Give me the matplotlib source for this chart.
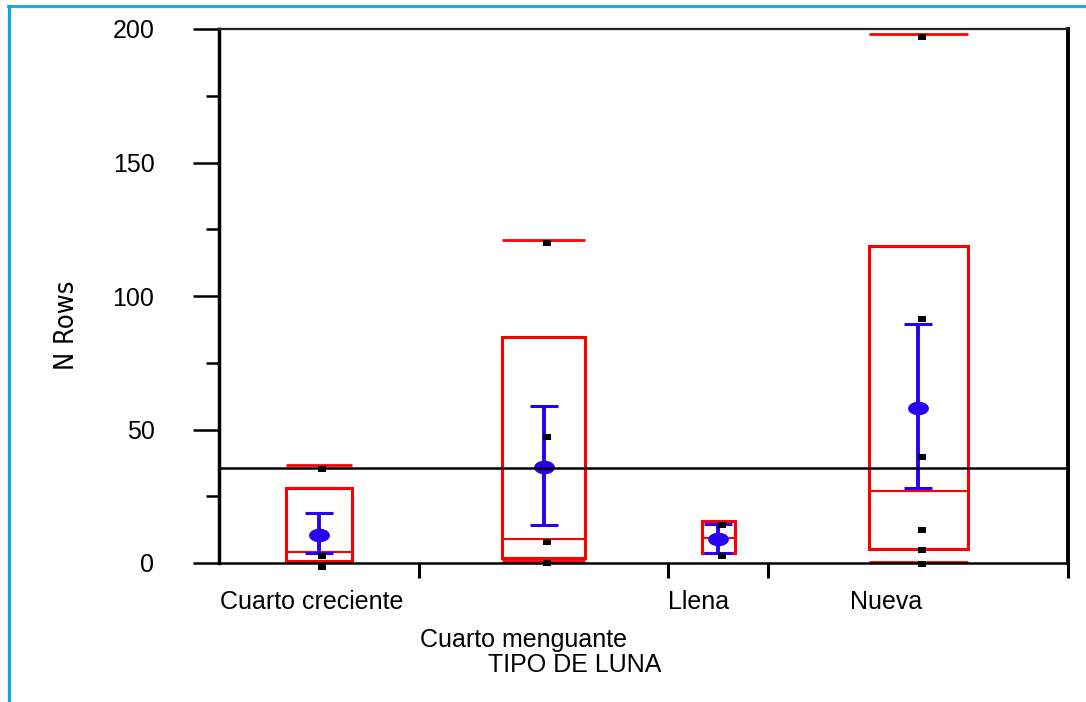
import numpy as np
import matplotlib
matplotlib.use("Agg")
import matplotlib.pyplot as plt
from matplotlib.path import Path
from matplotlib.lines import Line2D

plt.rcParams['font.family'] = ['Liberation Sans', 'DejaVu Sans']

# ---- data ----
categories = ["Cuarto creciente", "Cuarto menguante", "Llena", "Nueva"]
counts = [4, 5, 2, 6]
q1 = [0.75, 1.8, 3.6, 5.1]
medians = [4.2, 9.0, 9.2, 27.0]
q3 = [28.1, 84.8, 15.8, 118.7]
vmin = [0.75, 0.7, 3.6, 0.5]
vmax = [36.7, 121.0, 15.8, 198.0]
means = [10.5, 35.8, 8.9, 58.2]
ci_low = [3.9, 14.2, 3.9, 28.0]
ci_high = [18.8, 58.8, 14.6, 89.4]
points = [
    [35.3, 2.6, -1.4],
    [120.0, 47.3, 8.0, 0.1],
    [14.2, 2.6],
    [197.1, 91.4, 39.8, 12.4, 4.9, -0.4],
]
grand_mean = 35.5
yticks_major = [0, 50, 100, 150, 200]
yticks_minor = [25, 75, 125, 175]

# ---- figure ----
W, H = 1086, 702
fig = plt.figure(figsize=(W / 100, H / 100), dpi=100)
ax = fig.add_axes([219 / W, (H - 563) / H, (1068 - 219) / W, (563 - 29) / H])

counts_a = np.array(counts, dtype=float)
edges = np.concatenate([[0], np.cumsum(counts_a)])
centers = edges[:-1] + counts_a / 2
box_w = 0.33 * counts_a

ax.set_xlim(0, edges[-1])
ax.set_ylim(0, 200)

red = '#ff0000'
blue = '#2a00f5'

# boxes
ax.bar(centers, np.array(q3) - np.array(q1), bottom=q1, width=box_w,
       fill=False, edgecolor=red, linewidth=2.2, zorder=2, clip_on=False)
ax.hlines(medians, centers - box_w / 2, centers + box_w / 2, colors=red,
          linewidth=1.5, zorder=2, clip_on=False)
ax.hlines(vmax, centers - box_w / 2, centers + box_w / 2, colors=red,
          linewidth=2.0, zorder=2, clip_on=False)
ax.hlines(vmin, centers - box_w / 2, centers + box_w / 2, colors=red,
          linewidth=2.0, zorder=2, clip_on=False)

# means with error bars
t = np.linspace(0, 2 * np.pi, 60)
ellipse = Path(np.column_stack([np.cos(t), 0.65 * np.sin(t)]), closed=True)
means_a = np.array(means)
yerr = [means_a - np.array(ci_low), np.array(ci_high) - means_a]
ax.errorbar(centers, means, yerr=yerr, fmt='none', ecolor=blue,
            elinewidth=2.8, capsize=10, capthick=2.2, zorder=3, clip_on=False)
ax.plot(centers, means, linestyle='none', marker=ellipse, markersize=15,
        color=blue, markeredgewidth=0, zorder=4, clip_on=False)

# grand mean
ax.axhline(grand_mean, color='black', linewidth=1.8, zorder=5)

# points
rect = Path([(-1, -0.75), (1, -0.75), (1, 0.75), (-1, 0.75), (-1, -0.75)], closed=True)
for c, pts in zip(centers, points):
    ax.plot(np.full(len(pts), c + 0.07), pts, linestyle='none', marker=rect,
            markersize=6.0, color='black', markeredgewidth=0, zorder=6, clip_on=False)

# spines
ax.spines['left'].set_linewidth(2.5)
ax.spines['bottom'].set_linewidth(1.8)
ax.spines['top'].set_linewidth(1.6)
ax.spines['top'].set_color('#222222')
ax.spines['right'].set_linewidth(2.8)

# ticks
ax.set_yticks(yticks_major)
ax.set_yticklabels([str(v) for v in yticks_major], fontsize=18)
ax.set_yticks(yticks_minor, minor=True)
ax.tick_params(axis='y', which='major', length=18.5, width=1.8, pad=28)
ax.tick_params(axis='y', which='minor', length=9.5, width=1.8)
ax.set_xticks(edges[1:])
ax.set_xticklabels([])
ax.tick_params(axis='x', which='major', length=11, width=2.2, direction='out')
ax.tick_params(axis='x', which='minor', bottom=False)

# category labels
label_x = [0.02, 4.03, 8.99, 12.64]
label_row = [0, 1, 0, 0]
for lx, name, row in zip(label_x, categories, label_row):
    ax.annotate(name, xy=(lx, H - (602 if row == 0 else 640)),
                xycoords=('data', 'figure pixels'), ha='left', va='center',
                fontsize=18)
fig.text(575 / W, (H - 665) / H, "TIPO DE LUNA", ha='center', va='center', fontsize=18)
fig.text(67 / W, (H - 325) / H, "N Rows", rotation=90, ha='center', va='center',
         fontsize=19.5, family=['DejaVu Sans'], fontstretch='condensed')

# blue frame lines
border = '#08a8e8'
fig.add_artist(Line2D([9 / W, 9 / W], [0, (H - 6) / H], color=border, linewidth=2.3,
                      transform=fig.transFigure))
fig.add_artist(Line2D([8 / W, 1], [(H - 6) / H, (H - 6) / H], color=border, linewidth=2.0,
                      transform=fig.transFigure))

fig.savefig("out.png", dpi=100)
